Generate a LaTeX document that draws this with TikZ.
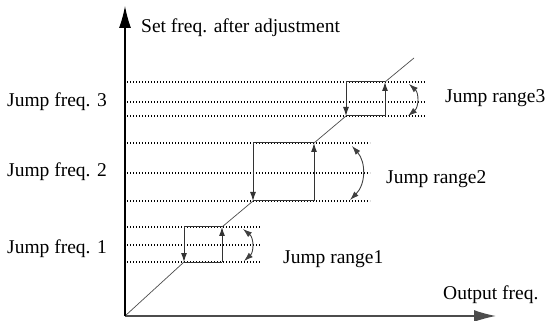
\documentclass[tikz,border=0pt]{standalone}
\usepackage{fontspec}
\setmainfont{Liberation Serif}
\usetikzlibrary{arrows.meta}
\begin{document}
\begin{tikzpicture}[x=1pt,y=-1pt,
  lbl/.style={anchor=base west,inner sep=0pt,font=\fontsize{19.5}{22}\selectfont},
  dotline/.style={line width=1.1pt,dash pattern=on 1.1pt off 1.9pt,black},
  boxline/.style={line width=1pt,black!80},
  diag/.style={line width=0.7pt,black!70},
  edgearrow/.style={boxline,-{Latex[length=9pt,width=6pt]}},
  rangearrow/.style={line width=0.9pt,black!75,{Latex[length=9pt,width=6pt]}-{Latex[length=9pt,width=6pt]}},
  axisarrow/.style={-{Latex[length=22pt,width=12pt]}}]
\useasboundingbox (0,0) rectangle (550,321);
% origin and axes
\coordinate (O) at (125,316);
\coordinate (Ytip) at (125,6);
\coordinate (Xtip) at (496,316);
% dotted lines
\foreach \y in {82,102,116}{\draw[dotline] (127,\y) -- (425,\y);}
\foreach \y in {143,173,201}{\draw[dotline] (127,\y) -- (370,\y);}
\foreach \y in {227,245,262}{\draw[dotline] (127,\y) -- (260,\y);}
% boxes corners
\coordinate (b1bl) at (184,262); \coordinate (b1tl) at (184,227);
\coordinate (b1tr) at (222,227); \coordinate (b1br) at (222,262);
\coordinate (b2bl) at (253,201); \coordinate (b2tl) at (253,143);
\coordinate (b2tr) at (314,143); \coordinate (b2br) at (314,201);
\coordinate (b3bl) at (346,116); \coordinate (b3tl) at (346,82);
\coordinate (b3tr) at (385,82); \coordinate (b3br) at (385,116);
\coordinate (dend) at (414,58);
% diagonal
\draw[diag] (O) -- (b1bl);
\draw[diag] (b1tr) -- (b2bl);
\draw[diag] (b2tr) -- (b3bl);
\draw[diag] (b3tr) -- (dend);
% boxes
\foreach \b in {b1,b2,b3}{
  \draw[boxline] (\b tl) -- (\b tr);
  \draw[boxline] (\b bl) -- (\b br);
  \draw[edgearrow] (\b tl) -- (\b bl);
  \draw[edgearrow] (\b br) -- (\b tr);
}
% range arrows
\coordinate (r1a) at (243,229); \coordinate (r1b) at (244,261);
\coordinate (r2a) at (352,146); \coordinate (r2b) at (350,200);
\coordinate (r3a) at (409,84);  \coordinate (r3b) at (408,116);
\draw[rangearrow] (r1a) .. controls (254,238) and (254,252) .. (r1b);
\draw[rangearrow] (r2a) .. controls (366,162) and (366,184) .. (r2b);
\draw[rangearrow] (r3a) .. controls (419,93) and (419,107) .. (r3b);
% axes
\draw[line width=1.4pt,black!70,axisarrow] (O) -- (Xtip);
\draw[line width=1.1pt,axisarrow] (O) -- (Ytip);
% labels
\node[lbl] (ylab) at (141,33) {Set freq. after adjustment};
\node[lbl] (xlab) at (443,299) {Output freq.};
\node[lbl] (jf3) at (7,107) {Jump freq. 3};
\node[lbl] (jf2) at (7,177) {Jump freq. 2};
\node[lbl] (jf1) at (7,253) {Jump freq. 1};
\node[lbl] (jr3) at (445,103) {Jump range3};
\node[lbl] (jr2) at (386,183) {Jump range2};
\node[lbl] (jr1) at (283,263) {Jump range1};
\end{tikzpicture}
\end{document}
